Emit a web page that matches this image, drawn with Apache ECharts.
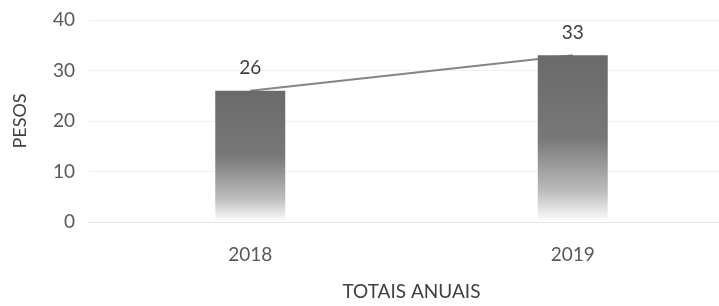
<!DOCTYPE html>
<html>
<head>
<meta charset="utf-8">
<script src="https://cdn.jsdelivr.net/npm/echarts@6/dist/echarts.min.js"></script>
<style>
  html, body { margin: 0; padding: 0; background: #fff; }
  #chart { width: 719px; height: 306px; }
</style>
</head>
<body>
<div id="chart"></div>
<script>
var anos = ['2018', '2019'];
var pesos = [26, 33];
var yTicks = [0, 10, 20, 30, 40];

var myChart = echarts.init(document.getElementById('chart'));

var fonte = 'Lato, "Open Sans", sans-serif';

var option = {
    animation: false,
    grid: { left: 89, top: 20, width: 645, height: 202, outerBoundsMode: 'none', containLabel: false },
    xAxis: {
        type: 'category',
        data: anos,
        name: 'TOTAIS ANUAIS',
        nameLocation: 'middle',
        nameGap: 60,
        nameTextStyle: { color: '#404040', fontSize: 19, fontFamily: fonte },
        axisLine: { lineStyle: { color: '#e6e6e6', width: 1 } },
        axisTick: { show: false },
        axisLabel: { color: '#595959', fontSize: 19, fontFamily: fonte, margin: 23 }
    },
    yAxis: {
        type: 'value',
        min: yTicks[0],
        max: yTicks[yTicks.length - 1],
        interval: 10,
        name: 'PESOS',
        nameLocation: 'middle',
        nameGap: 60,
        nameTextStyle: { color: '#404040', fontSize: 18, fontFamily: fonte },
        axisLine: { show: false },
        axisTick: { show: false },
        axisLabel: { color: '#595959', fontSize: 19, fontFamily: fonte, margin: 14 },
        splitLine: { lineStyle: { color: '#f0f0f0', width: 1 } }
    },
    series: [
        {
            type: 'line',
            data: pesos,
            symbol: 'none',
            lineStyle: { color: '#858585', width: 2 },
            z: 1
        },
        {
            type: 'bar',
            data: pesos,
            barWidth: 70,
            z: 2,
            itemStyle: {
                color: new echarts.graphic.LinearGradient(0, 0, 0, 1, [
                    { offset: 0, color: '#6a6a6a' },
                    { offset: 0.5, color: '#787878' },
                    { offset: 0.82, color: '#bdbdbd' },
                    { offset: 1, color: '#ffffff' }
                ])
            },
            label: {
                show: true,
                position: 'top',
                distance: 13,
                color: '#404040',
                fontSize: 19,
                fontFamily: fonte
            }
        }
    ]
};

myChart.setOption(option);
</script>
</body>
</html>
